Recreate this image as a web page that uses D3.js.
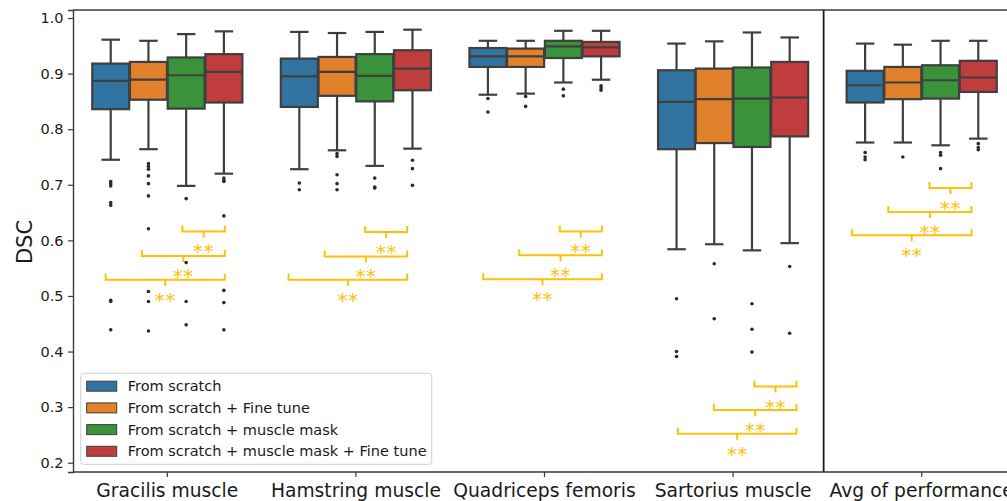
<!DOCTYPE html>
<html>
<head>
<meta charset="utf-8">
<script src="https://cdn.jsdelivr.net/npm/d3@7/dist/d3.min.js"></script>
<style>
  html, body { margin: 0; padding: 0; background: #fff; }
  svg { display: block; font-family: "DejaVu Sans", sans-serif; }
</style>
</head>
<body>
<svg id="chart" width="1007" height="501"></svg>
<script>
// ---- data ----
const categories = ["Gracilis muscle", "Hamstring muscle", "Quadriceps femoris", "Sartorius muscle", "Avg of performance"];
const seriesNames = ["From scratch", "From scratch + Fine tune", "From scratch + muscle mask", "From scratch + muscle mask + Fine tune"];
const seriesColors = ["#3274a1", "#e1812c", "#3a923a", "#c03d3e"];
const yTicks = [0.2, 0.3, 0.4, 0.5, 0.6, 0.7, 0.8, 0.9, 1.0];

// box stats per category: [lower whisker, Q1, median, Q3, upper whisker]
const scratch = [
  [0.745, 0.836, 0.887, 0.918, 0.961],
  [0.728, 0.840, 0.895, 0.927, 0.975],
  [0.862, 0.912, 0.931, 0.946, 0.959],
  [0.584, 0.764, 0.849, 0.906, 0.954],
  [0.776, 0.848, 0.879, 0.905, 0.954]
];
const scratchFineTune = [
  [0.764, 0.853, 0.889, 0.921, 0.959],
  [0.762, 0.860, 0.903, 0.930, 0.973],
  [0.864, 0.912, 0.931, 0.945, 0.959],
  [0.593, 0.775, 0.854, 0.909, 0.958],
  [0.776, 0.854, 0.884, 0.912, 0.952]
];
const scratchMask = [
  [0.698, 0.837, 0.897, 0.929, 0.971],
  [0.734, 0.850, 0.896, 0.935, 0.975],
  [0.884, 0.928, 0.949, 0.959, 0.977],
  [0.582, 0.768, 0.855, 0.911, 0.974],
  [0.771, 0.855, 0.888, 0.915, 0.959]
];
const scratchMaskFineTune = [
  [0.720, 0.848, 0.903, 0.935, 0.976],
  [0.765, 0.870, 0.909, 0.942, 0.979],
  [0.889, 0.931, 0.947, 0.957, 0.977],
  [0.595, 0.787, 0.857, 0.921, 0.965],
  [0.783, 0.867, 0.893, 0.923, 0.959]
];

// outliers per category
const scratchOutliers = [
  [0.706, 0.702, 0.698, 0.668, 0.663, 0.492, 0.490, 0.439],
  [0.703, 0.691],
  [0.855, 0.831],
  [0.495, 0.400, 0.391],
  [0.758, 0.750, 0.745]
];
const scratchFineTuneOutliers = [
  [0.738, 0.733, 0.728, 0.716, 0.702, 0.680, 0.621, 0.508, 0.490, 0.437],
  [0.756, 0.751, 0.718, 0.702, 0.691],
  [0.859, 0.841],
  [0.558, 0.459],
  [0.750]
];
const scratchMaskOutliers = [
  [0.675, 0.560, 0.490, 0.448],
  [0.712, 0.696, 0.694],
  [0.872, 0.860],
  [0.486, 0.440, 0.399],
  [0.758, 0.753, 0.729]
];
const scratchMaskFineTuneOutliers = [
  [0.712, 0.708, 0.706, 0.644, 0.510, 0.488, 0.439],
  [0.744, 0.729, 0.699],
  [0.878, 0.874, 0.870],
  [0.553, 0.433],
  [0.774, 0.767, 0.763]
];

// significance brackets: level of each bracket (DSC) per category
const bracketLevels = [
  [0.616, 0.572, 0.529],
  [0.615, 0.571, 0.529],
  [0.616, 0.573, 0.530],
  [0.337, 0.295, 0.252],
  [0.694, 0.651, 0.609]
];
// bracket spans, offsets from the category centre (in category units)
const bracketLeft = [
  [0.080, -0.135, -0.327],
  [0.049, -0.166, -0.357],
  [0.081, -0.134, -0.325],
  [0.113, -0.102, -0.293],
  [0.041, -0.177, -0.370]
];
const bracketRight = [0.305, 0.272, 0.304, 0.336, 0.264];
const bracketLabel = "**";
const separatorAt = 3.48;

const allStats = [scratch, scratchFineTune, scratchMask, scratchMaskFineTune];
const allOutliers = [scratchOutliers, scratchFineTuneOutliers, scratchMaskOutliers, scratchMaskFineTuneOutliers];

// ---- layout ----
const svg = d3.select("#chart");
const plotLeft = 73, plotRight = 1016, plotTop = 10, plotBottom = 472;
const lineColor = "#3f3f3f";
const gold = "#ffc107";

const x = d3.scaleBand().domain(categories).range([plotLeft, plotRight]).padding(0);
const xPos = d3.scaleLinear().domain([-0.5, categories.length - 0.5]).range([plotLeft, plotRight]);
const hue = d3.scaleBand().domain(d3.range(seriesNames.length))
  .range([0.1 * x.bandwidth(), 0.9 * x.bandwidth()]).padding(0);
const y = d3.scaleLinear().domain([0.1833, 1.0144]).range([plotBottom, plotTop]);

const boxW = hue.bandwidth() * 0.98;

// boxes
const plot = svg.append("g");
allStats.forEach((stats, s) => {
  stats.forEach((st, c) => {
    const cx = x(categories[c]) + hue(s) + hue.bandwidth() / 2;
    const [lo, q1, med, q3, hi] = st;
    const g = plot.append("g");
    // whiskers
    g.append("line").attr("x1", cx).attr("x2", cx).attr("y1", y(q3)).attr("y2", y(hi))
      .attr("stroke", lineColor).attr("stroke-width", 2.2);
    g.append("line").attr("x1", cx).attr("x2", cx).attr("y1", y(q1)).attr("y2", y(lo))
      .attr("stroke", lineColor).attr("stroke-width", 2.2);
    // caps
    [lo, hi].forEach(v => {
      g.append("line").attr("x1", cx - boxW / 4).attr("x2", cx + boxW / 4)
        .attr("y1", y(v)).attr("y2", y(v))
        .attr("stroke", lineColor).attr("stroke-width", 2.2);
    });
    // box
    g.append("rect").attr("x", cx - boxW / 2).attr("y", y(q3))
      .attr("width", boxW).attr("height", y(q1) - y(q3))
      .attr("fill", seriesColors[s]).attr("stroke", lineColor).attr("stroke-width", 2.2);
    // median
    g.append("line").attr("x1", cx - boxW / 2).attr("x2", cx + boxW / 2)
      .attr("y1", y(med)).attr("y2", y(med))
      .attr("stroke", lineColor).attr("stroke-width", 2.2);
    // outliers
    g.selectAll("circle").data(allOutliers[s][c]).join("circle")
      .attr("cx", cx).attr("cy", d => y(d)).attr("r", 1.8)
      .attr("fill", "#2b2b2b");
  });
});

// significance brackets
const br = svg.append("g");
categories.forEach((cat, c) => {
  bracketLevels[c].forEach((lvl, k) => {
    const x1 = xPos(c + bracketLeft[c][k]);
    const x2 = xPos(c + bracketRight[c]);
    const yl = y(lvl);
    const xm = (x1 + x2) / 2;
    br.append("path")
      .attr("d", `M${x1},${yl - 6}V${yl}H${x2}V${yl - 6}M${xm},${yl}V${yl + 6}`)
      .attr("fill", "none").attr("stroke", gold).attr("stroke-width", 2);
    br.append("text").attr("x", xm).attr("y", yl + 27)
      .attr("text-anchor", "middle").attr("font-size", 20).attr("letter-spacing", 0.5)
      .attr("fill", gold).text(bracketLabel);
  });
});

// separator before the average column
svg.append("line").attr("x1", xPos(separatorAt)).attr("x2", xPos(separatorAt))
  .attr("y1", plotTop).attr("y2", plotBottom).attr("stroke", "#1a1a1a").attr("stroke-width", 1.8);

// spines
svg.append("line").attr("x1", plotLeft).attr("x2", plotRight).attr("y1", plotTop).attr("y2", plotTop)
  .attr("stroke", "#3a3a3a").attr("stroke-width", 1.4);
svg.append("line").attr("x1", plotRight).attr("x2", plotRight).attr("y1", plotTop).attr("y2", plotBottom)
  .attr("stroke", "#3a3a3a").attr("stroke-width", 1.4);

// axes
const yAxis = svg.append("g").attr("transform", `translate(${plotLeft},0)`)
  .call(d3.axisLeft(y).tickValues(yTicks).tickFormat(d3.format(".1f")).tickSize(5).tickPadding(4.5));
const xAxis = svg.append("g").attr("transform", `translate(0,${plotBottom})`)
  .call(d3.axisBottom(x).tickSize(5).tickPadding(6));

[yAxis, xAxis].forEach(a => {
  a.select(".domain").attr("stroke", "#3a3a3a").attr("stroke-width", 1.4);
  a.selectAll(".tick line").attr("stroke", "#3a3a3a").attr("stroke-width", 1.2);
  a.selectAll("text").attr("fill", "#1a1a1a").attr("font-family", "DejaVu Sans, sans-serif");
});
yAxis.selectAll("text").attr("font-size", 14.5);
xAxis.selectAll("text").attr("font-size", 18.7).attr("dy", null).attr("y", 24.7);
xAxis.select(".domain").attr("d", `M${plotLeft},0H${plotRight}`);

// y label
svg.append("text").attr("transform", "translate(31.5,242) rotate(-90)")
  .attr("text-anchor", "middle").attr("font-size", 21).attr("fill", "#1a1a1a")
  .text("DSC");

// legend
const lg = svg.append("g").attr("transform", "translate(80.7,373.3)");
lg.append("rect").attr("width", 351).attr("height", 91).attr("rx", 3)
  .attr("fill", "#fff").attr("fill-opacity", 0.8).attr("stroke", "#d0d0d0").attr("stroke-width", 1);
seriesNames.forEach((name, i) => {
  const cy = 12.9 + i * 21.7;
  lg.append("rect").attr("x", 6).attr("y", cy - 5).attr("width", 30).attr("height", 10)
    .attr("fill", seriesColors[i]).attr("stroke", lineColor).attr("stroke-width", 1);
  lg.append("text").attr("x", 47).attr("y", cy + 5.2).attr("font-size", 14.5)
    .attr("fill", "#1a1a1a").text(name);
});
</script>
</body>
</html>
